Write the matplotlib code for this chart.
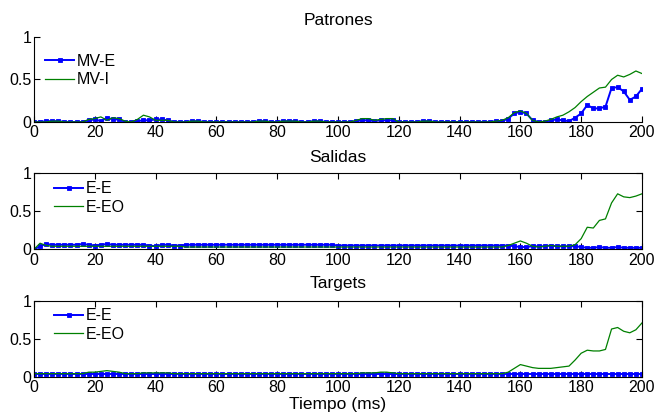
import numpy as np
import matplotlib
matplotlib.use("Agg")
import matplotlib.pyplot as plt

plt.rcParams['font.family'] = ['Liberation Sans', 'DejaVu Sans']

# Time axis (ms), sampled every 2 ms
t = np.arange(0, 201, 2)

# Patrones
mv_e = [0.00, 0.00, 0.01, 0.01, 0.01, 0.00, 0.00, 0.00, 0.00, 0.02,
        0.03, 0.01, 0.05, 0.03, 0.03, 0.00, 0.00, 0.01, 0.02, 0.02,
        0.03, 0.03, 0.02, 0.00, 0.00, 0.00, 0.01, 0.01, 0.00, 0.00,
        0.00, 0.00, 0.00, 0.00, 0.00, 0.00, 0.00, 0.01, 0.01, 0.00,
        0.00, 0.01, 0.01, 0.01, 0.00, 0.00, 0.01, 0.01, 0.00, 0.00,
        0.00, 0.00, 0.00, 0.01, 0.02, 0.02, 0.01, 0.02, 0.02, 0.02,
        0.00, 0.00, 0.00, 0.00, 0.01, 0.01, 0.00, 0.00, 0.00, 0.00,
        0.00, 0.00, 0.00, 0.00, 0.00, 0.00, 0.01, 0.01, 0.04, 0.10,
        0.12, 0.10, 0.02, 0.00, 0.00, 0.02, 0.03, 0.02, 0.01, 0.05,
        0.10, 0.20, 0.16, 0.16, 0.18, 0.40, 0.41, 0.36, 0.26, 0.30,
        0.39]
mv_i = [0.00, 0.00, 0.00, 0.01, 0.01, 0.00, 0.00, 0.00, 0.00, 0.03,
        0.04, 0.06, 0.02, 0.05, 0.04, 0.01, 0.00, 0.03, 0.08, 0.06,
        0.02, 0.02, 0.02, 0.00, 0.00, 0.00, 0.01, 0.01, 0.00, 0.00,
        0.00, 0.00, 0.00, 0.00, 0.00, 0.00, 0.00, 0.01, 0.01, 0.00,
        0.00, 0.01, 0.01, 0.01, 0.00, 0.00, 0.01, 0.01, 0.00, 0.00,
        0.00, 0.00, 0.00, 0.02, 0.04, 0.04, 0.02, 0.03, 0.04, 0.04,
        0.00, 0.00, 0.00, 0.00, 0.01, 0.01, 0.00, 0.00, 0.00, 0.00,
        0.00, 0.00, 0.00, 0.00, 0.00, 0.00, 0.01, 0.02, 0.05, 0.11,
        0.13, 0.10, 0.02, 0.00, 0.01, 0.03, 0.06, 0.08, 0.12, 0.17,
        0.24, 0.30, 0.35, 0.40, 0.41, 0.50, 0.55, 0.53, 0.56, 0.60,
        0.57]

# Salidas
sal_ee = [0.00, 0.04, 0.07, 0.06, 0.06, 0.06, 0.06, 0.06, 0.07, 0.06,
          0.05, 0.06, 0.07, 0.06, 0.06, 0.06, 0.06, 0.06, 0.06, 0.05,
          0.04, 0.06, 0.06, 0.05, 0.05, 0.06, 0.06, 0.06, 0.06, 0.06,
          0.06, 0.06, 0.06, 0.06, 0.06, 0.06, 0.06, 0.06, 0.06, 0.06,
          0.06, 0.06, 0.06, 0.06, 0.06, 0.06, 0.06, 0.06, 0.06, 0.06,
          0.05, 0.05, 0.05, 0.05, 0.05, 0.05, 0.05, 0.05, 0.05, 0.05,
          0.05, 0.05, 0.05, 0.05, 0.05, 0.05, 0.05, 0.05, 0.05, 0.05,
          0.05, 0.05, 0.05, 0.05, 0.05, 0.05, 0.05, 0.05, 0.05, 0.04,
          0.03, 0.03, 0.04, 0.04, 0.04, 0.05, 0.04, 0.04, 0.04, 0.04,
          0.03, 0.02, 0.02, 0.03, 0.02, 0.02, 0.03, 0.02, 0.02, 0.02,
          0.02]
sal_eeo = [0.00, 0.08, 0.05, 0.04, 0.04, 0.04, 0.04, 0.04, 0.04, 0.04,
           0.04, 0.04, 0.04, 0.04, 0.04, 0.04, 0.04, 0.04, 0.04, 0.04,
           0.04, 0.04, 0.04, 0.04, 0.04, 0.03, 0.03, 0.03, 0.03, 0.03,
           0.03, 0.03, 0.03, 0.03, 0.03, 0.03, 0.03, 0.03, 0.03, 0.03,
           0.03, 0.03, 0.03, 0.03, 0.03, 0.03, 0.03, 0.03, 0.03, 0.03,
           0.03, 0.03, 0.03, 0.03, 0.03, 0.03, 0.03, 0.03, 0.03, 0.03,
           0.03, 0.03, 0.03, 0.03, 0.03, 0.03, 0.03, 0.03, 0.03, 0.03,
           0.03, 0.03, 0.03, 0.03, 0.03, 0.03, 0.03, 0.03, 0.05, 0.08,
           0.11, 0.08, 0.04, 0.03, 0.04, 0.05, 0.04, 0.04, 0.04, 0.06,
           0.14, 0.29, 0.28, 0.38, 0.40, 0.61, 0.73, 0.69, 0.68, 0.70,
           0.73]

# Targets
tar_ee = [0.04, 0.04, 0.04, 0.04, 0.04, 0.04, 0.04, 0.04, 0.04, 0.04,
          0.04, 0.04, 0.04, 0.04, 0.04, 0.04, 0.04, 0.04, 0.04, 0.04,
          0.04, 0.04, 0.04, 0.04, 0.04, 0.04, 0.04, 0.04, 0.04, 0.04,
          0.04, 0.04, 0.04, 0.04, 0.04, 0.04, 0.04, 0.04, 0.04, 0.04,
          0.04, 0.04, 0.04, 0.04, 0.04, 0.04, 0.04, 0.04, 0.04, 0.04,
          0.04, 0.04, 0.04, 0.04, 0.04, 0.04, 0.04, 0.04, 0.04, 0.04,
          0.04, 0.04, 0.04, 0.04, 0.04, 0.04, 0.04, 0.04, 0.04, 0.04,
          0.04, 0.04, 0.04, 0.04, 0.04, 0.04, 0.04, 0.04, 0.04, 0.04,
          0.04, 0.04, 0.04, 0.04, 0.04, 0.04, 0.04, 0.04, 0.04, 0.04,
          0.04, 0.04, 0.04, 0.04, 0.04, 0.04, 0.04, 0.04, 0.04, 0.04,
          0.04]
tar_eeo = [0.04, 0.04, 0.04, 0.04, 0.04, 0.04, 0.04, 0.04, 0.04, 0.06,
           0.06, 0.07, 0.08, 0.07, 0.06, 0.04, 0.04, 0.04, 0.05, 0.05,
           0.05, 0.05, 0.05, 0.04, 0.04, 0.04, 0.04, 0.04, 0.04, 0.04,
           0.04, 0.04, 0.04, 0.04, 0.04, 0.04, 0.04, 0.04, 0.04, 0.04,
           0.04, 0.04, 0.04, 0.04, 0.04, 0.04, 0.04, 0.04, 0.04, 0.04,
           0.04, 0.04, 0.04, 0.04, 0.05, 0.05, 0.05, 0.06, 0.06, 0.05,
           0.04, 0.04, 0.04, 0.04, 0.04, 0.04, 0.04, 0.04, 0.04, 0.04,
           0.04, 0.04, 0.04, 0.04, 0.04, 0.04, 0.04, 0.04, 0.06, 0.11,
           0.16, 0.14, 0.12, 0.11, 0.11, 0.11, 0.12, 0.13, 0.14, 0.22,
           0.31, 0.35, 0.34, 0.34, 0.36, 0.63, 0.65, 0.60, 0.58, 0.62,
           0.71]

titles = ["Patrones", "Salidas", "Targets"]
labels = [("MV-E", "MV-I"), ("E-E", "E-EO"), ("E-E", "E-EO")]
series = [(mv_e, mv_i), (sal_ee, sal_eeo), (tar_ee, tar_eeo)]
xticks = np.arange(0, 201, 20)
yticks = [0, 0.5, 1]

BLUE = (0, 0, 1)
GREEN = (0, 0.5, 0)

fig = plt.figure(figsize=(6.56, 4.12), dpi=100)
W = 0.9268
L = 0.0518
rects = [(L, 0.7039, W, 0.2063), (L, 0.3949, W, 0.1845), (L, 0.0857, W, 0.1837)]
title_pads = [8.6, 8.0, 9.4]
legend_anchor = [(0.0, 0.935), (0.015, 1.04), (0.015, 1.05)]

for i, rect in enumerate(rects):
    ax = fig.add_axes(rect)
    a, b = series[i]
    la, lb = labels[i]
    ax.plot(t, a, '-', color=BLUE, lw=1.4, marker='s', ms=2.4,
            mec=BLUE, mfc=BLUE, mew=0.6, label=la)
    ax.plot(t, b, '-', color=GREEN, lw=0.9, label=lb)
    ax.set_xlim(0, 200)
    ax.set_ylim(0, 1)
    ax.set_xticks(xticks)
    ax.set_yticks(yticks)
    ax.set_yticklabels(["0", "0.5", "1"])
    ax.set_title(titles[i], fontsize=12.5, pad=title_pads[i])
    ax.tick_params(axis='both', direction='in', labelsize=11.5, length=4, width=0.8)
    ax.tick_params(axis='x', pad=2.5)
    ax.tick_params(axis='y', pad=2)
    if i == 0:
        ax.spines['top'].set_visible(False)
        ax.spines['right'].set_visible(False)
    else:
        ax.tick_params(top=True, right=True)
    for s in ax.spines.values():
        s.set_linewidth(0.8)
    ax.legend(loc='upper left', frameon=False, fontsize=11.5,
              handlelength=1.8, handletextpad=0.15, labelspacing=0.22,
              borderaxespad=0.3, bbox_to_anchor=legend_anchor[i])
    if i == 2:
        ax.set_xlabel("Tiempo (ms)", fontsize=12.5, labelpad=1)

fig.savefig("out.png", dpi=100)
